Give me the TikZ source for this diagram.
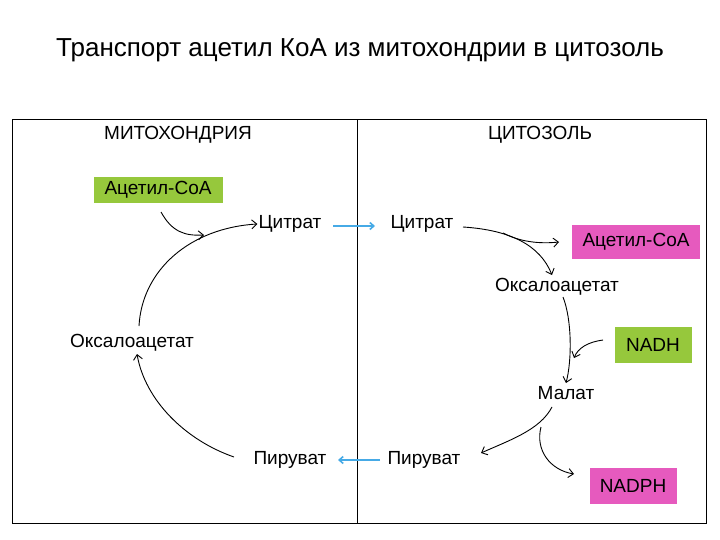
\documentclass[tikz,border=0pt]{standalone}
\usepackage{fontspec}
\setmainfont{Liberation Sans}
\usetikzlibrary{arrows.meta}
\definecolor{gbox}{RGB}{150,200,60}
\definecolor{pbox}{RGB}{230,90,190}
\definecolor{cblue}{RGB}{70,170,230}
\begin{document}
\begin{tikzpicture}[x=1pt,y=-1pt,
  lbl/.style={font=\fontsize{19}{22}\selectfont,inner sep=1pt},
  hdr/.style={font=\fontsize{19}{22}\selectfont},
  gbx/.style={lbl,fill=gbox,minimum height=26pt,inner xsep=4pt},
  pbx/.style={lbl,fill=pbox,minimum height=34pt,inner xsep=4pt},
  arr/.style={-{Straight Barb[length=5pt,width=9pt]},line width=0.9pt},
  barr/.style={cblue,line width=1.6pt,-{Straight Barb[length=4pt,width=7pt]}}]
\useasboundingbox (0,0) rectangle (720,540);
\node[font=\fontsize{26}{30}\selectfont] (title) at (360,50) {Транспорт ацетил КоА из митохондрии в цитозоль};
\draw[line width=1pt] (12,120) rectangle (706,523);
\coordinate (dtop) at (357,120); \coordinate (dbot) at (357,523);
\draw[line width=0.8pt] (dtop) -- (dbot);
\node[hdr] (mito) at (178,135) {МИТОХОНДРИЯ};
\node[hdr] (cyto) at (540,135) {ЦИТОЗОЛЬ};
\node[gbx,minimum width=129pt] (acl) at (158,190) {Ацетил-CoA};
\node[lbl] (citl) at (290,224) {Цитрат};
\node[lbl] (citr) at (422,224) {Цитрат};
\node[pbx,minimum width=128pt] (acr) at (636,242) {Ацетил-CoA};
\node[lbl] (oxr) at (557,287) {Оксалоацетат};
\node[gbx,minimum width=77pt,minimum height=36pt] (nadh) at (653,345) {NADH};
\node[lbl] (mal) at (566,393) {Малат};
\node[pbx,minimum width=87pt,minimum height=36pt] (nadph) at (633,486) {NADPH};
\node[lbl] (pyr) at (424,460) {Пируват};
\node[lbl] (pyl) at (290,460) {Пируват};
\node[lbl] (oxl) at (132,343) {Оксалоацетат};
% blue transport
\coordinate (b1s) at (333,226); \coordinate (b1e) at (375,226);
\coordinate (b2s) at (380,460); \coordinate (b2e) at (338,460);
\draw[barr] (b1s) -- (b1e);
\draw[barr] (b2s) -- (b2e);
% left cycle
\coordinate (l1) at (139,326); \coordinate (l2) at (234,457); \coordinate (l3) at (137,354);
\draw[arr] (l1) .. controls (142,270) and (190,228) .. (citl.west);
\draw[arr] (l2) .. controls (185,440) and (145,400) .. (l3);
\draw[arr] (161,212) .. controls (172,232) and (185,236) .. (204,235);
% right side
\draw[arr] (463,227) .. controls (510,230) and (540,245) .. (552,275);
\draw[arr] (503,233) .. controls (520,242) and (540,244) .. (559,242);
\draw[arr] (563,297) .. controls (572,320) and (572,360) .. (566,383);
\draw[arr] (603,340) .. controls (588,342) and (578,348) .. (574,358);
\draw[arr] (552,407) .. controls (540,430) and (510,440) .. (481,453);
\draw[arr] (541,427) .. controls (535,450) and (550,470) .. (574,474);
\end{tikzpicture}
\end{document}
